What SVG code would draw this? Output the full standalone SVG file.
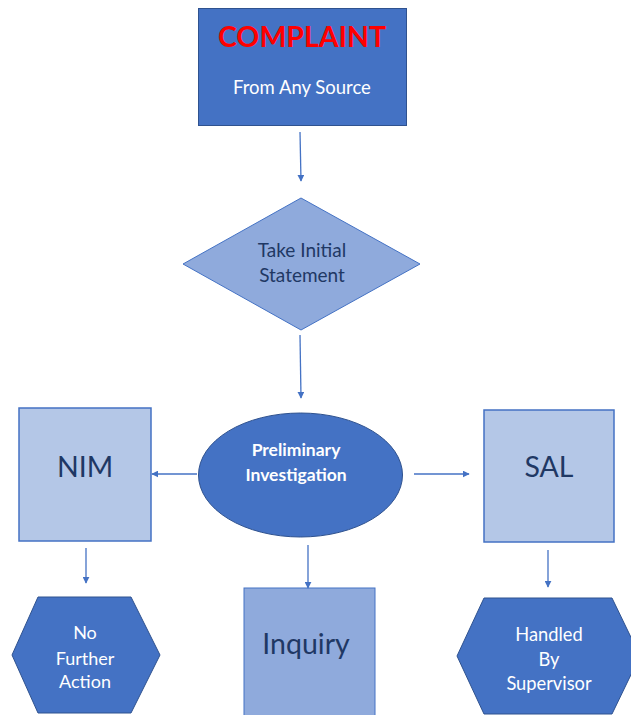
<svg xmlns="http://www.w3.org/2000/svg" width="631" height="715" viewBox="0 0 631 715">
<style>
.dark{fill:#4472C4;stroke:#2F528F;stroke-width:1}
.mid{fill:#8FAADC;stroke:#4472C4;stroke-width:1}
.light{fill:#B4C7E7;stroke:#4472C4;stroke-width:1.5}
.t{font-family:Lato,"Open Sans",sans-serif;text-anchor:middle}
.w{fill:#FFFFFF}
.n{fill:#1F3864}
.c line{stroke:#4472C4;stroke-width:1.3;marker-end:url(#ah)}
</style>
<defs>
<marker id="ah" viewBox="0 0 10 10" refX="9" refY="5" markerWidth="7" markerHeight="7" markerUnits="userSpaceOnUse" orient="auto">
<path d="M0,0 L10,5 L0,10 z" fill="#4472C4"/>
</marker>
</defs>
<rect width="631" height="715" fill="#FFFFFF"/>
<g id="complaint">
<rect class="dark" x="198.5" y="8.5" width="208" height="117"/>
<text class="t" x="302" y="47" font-size="28.5" font-weight="bold" fill="#FF0000">COMPLAINT</text>
<text class="t w" x="302" y="94" font-size="18.5">From Any Source</text>
</g>
<g id="statement">
<polygon class="mid" points="301,198 420,264 301,330 183,264"/>
<text class="t n" x="302" y="257" font-size="19">Take Initial</text>
<text class="t n" x="302" y="282" font-size="19">Statement</text>
</g>
<g id="preliminary">
<ellipse class="dark" cx="300.5" cy="475" rx="102" ry="62"/>
<text class="t w" x="296" y="456" font-size="17.5" font-weight="bold">Preliminary</text>
<text class="t w" x="296" y="481" font-size="17.5" font-weight="bold">Investigation</text>
</g>
<g id="nim">
<rect class="light" x="19" y="408" width="132" height="133"/>
<text class="t n" x="85" y="477" font-size="28.5">NIM</text>
</g>
<g id="sal">
<rect class="light" x="484" y="410" width="130" height="132"/>
<text class="t n" x="549" y="477" font-size="28.5">SAL</text>
</g>
<g id="nfa">
<polygon class="dark" points="38,597 131,597 160,655 131,713 38,713 12,655"/>
<text class="t w" x="85" y="639" font-size="18">No</text>
<text class="t w" x="85" y="665" font-size="18">Further</text>
<text class="t w" x="85" y="688" font-size="18">Action</text>
</g>
<g id="inquiry">
<rect class="mid" x="244" y="588" width="131" height="140"/>
<text class="t n" x="306" y="654" font-size="28.5">Inquiry</text>
</g>
<g id="supervisor">
<polygon class="dark" points="484,598 612,598 640,656 612,714 484,714 457,656"/>
<text class="t w" x="549" y="641" font-size="18.3">Handled</text>
<text class="t w" x="549" y="666" font-size="18.3">By</text>
<text class="t w" x="549" y="690" font-size="18.3">Supervisor</text>
</g>
<g id="connectors" class="c">
<line x1="300" y1="132" x2="301" y2="181"/>
<line x1="300" y1="335" x2="301" y2="398"/>
<line x1="197" y1="474" x2="152" y2="474"/>
<line x1="414" y1="474" x2="469" y2="474"/>
<line x1="86" y1="548" x2="86" y2="583"/>
<line x1="308" y1="545" x2="308" y2="588"/>
<line x1="548" y1="550" x2="548" y2="587"/>
</g>
</svg>
